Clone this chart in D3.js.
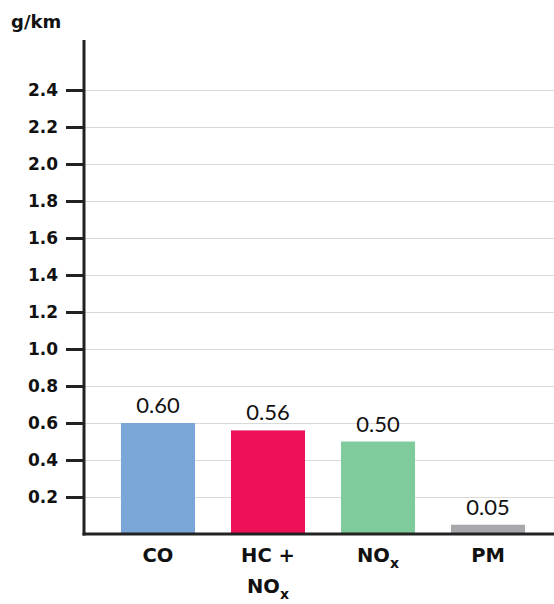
<!DOCTYPE html>
<html>
<head>
<meta charset="utf-8">
<script src="https://cdn.jsdelivr.net/npm/d3@7"></script>
<style>
  body { margin: 0; background: #fff; }
  svg { display: block; font-family: "DejaVu Sans", sans-serif; }
</style>
</head>
<body>
<script>
// emissions limits, g/km
var categories = ["CO", "HC + NOx", "NOx", "PM"];
var values = [0.60, 0.56, 0.50, 0.05];
var valueLabels = ["0.60", "0.56", "0.50", "0.05"];
var colors = ["#7ba7d8", "#ee1157", "#7fcb9b", "#a7a8ac"];
var tickValues = [0.2, 0.4, 0.6, 0.8, 1.0, 1.2, 1.4, 1.6, 1.8, 2.0, 2.2, 2.4];
// label lines, "_" marks the start of a subscript
var labelLines = [["CO"], ["HC +", "NO_x"], ["NO_x"], ["PM"]];

var W = 554, H = 604;
var axisX = 84, baseY = 534;

var svg = d3.select("body").append("svg")
    .attr("width", W)
    .attr("height", H);

var x = d3.scaleBand().domain(categories)
    .range([axisX, 562])
    .paddingInner(0.327)
    .paddingOuter(0.336);

var y = d3.scaleLinear().domain([0, 2.4]).range([baseY, 90]);

// grid
svg.append("g").selectAll("line")
    .data(tickValues)
    .enter().append("line")
    .attr("x1", axisX).attr("x2", W)
    .attr("y1", function(d) { return Math.round(y(d)) + 0.5; })
    .attr("y2", function(d) { return Math.round(y(d)) + 0.5; })
    .attr("stroke", "#d9d9d9")
    .attr("stroke-width", 1);

// bars
svg.append("g").selectAll("rect")
    .data(values)
    .enter().append("rect")
    .attr("x", function(d, i) { return x(categories[i]); })
    .attr("width", x.bandwidth())
    .attr("y", function(d) { return y(d); })
    .attr("height", function(d) { return baseY - y(d); })
    .attr("fill", function(d, i) { return colors[i]; });

// value labels
svg.append("g").selectAll("text")
    .data(values)
    .enter().append("text")
    .attr("x", function(d, i) { return x(categories[i]) + x.bandwidth() / 2; })
    .attr("y", function(d) { return y(d) - 10; })
    .attr("text-anchor", "middle")
    .style("font-family", "Lato, sans-serif")
    .style("font-size", "22px")
    .style("fill", "#111")
    .text(function(d, i) { return valueLabels[i]; });

// y axis
var yAxis = d3.axisLeft(y)
    .tickValues(tickValues)
    .tickSize(18)
    .tickPadding(8)
    .tickFormat(d3.format(".1f"));

var gy = svg.append("g")
    .attr("transform", "translate(" + axisX + ",0)")
    .call(yAxis);
gy.select(".domain").remove();
gy.selectAll(".tick line").attr("stroke", "#222").attr("stroke-width", 3);
gy.selectAll(".tick text")
    .style("font-size", "17px")
    .style("font-weight", "bold")
    .style("font-family", "DejaVu Sans, sans-serif")
    .style("fill", "#111");

svg.append("line")
    .attr("x1", axisX).attr("x2", axisX)
    .attr("y1", 40).attr("y2", baseY + 1.5)
    .attr("stroke", "#222").attr("stroke-width", 3);

svg.append("line")
    .attr("x1", axisX - 1.5).attr("x2", W)
    .attr("y1", baseY).attr("y2", baseY)
    .attr("stroke", "#222").attr("stroke-width", 3);

// unit
svg.append("text")
    .attr("x", 11).attr("y", 28)
    .style("font-size", "18px")
    .style("font-weight", "bold")
    .style("fill", "#111")
    .text("g/km");

// category labels
var cat = svg.append("g").selectAll("text")
    .data(labelLines)
    .enter().append("text")
    .attr("text-anchor", "middle")
    .style("font-size", "19.5px")
    .style("font-weight", "bold")
    .style("fill", "#111");

cat.each(function(lines, i) {
    var t = d3.select(this);
    var cx = x(categories[i]) + x.bandwidth() / 2;
    lines.forEach(function(line, j) {
        var parts = line.split("_");
        t.append("tspan")
            .attr("x", cx)
            .attr("y", 562 + j * 31)
            .text(parts[0]);
        if (parts.length > 1) {
            t.append("tspan")
                .attr("dy", 6)
                .style("font-size", "14px")
                .text(parts[1]);
        }
    });
});
</script>
</body>
</html>
